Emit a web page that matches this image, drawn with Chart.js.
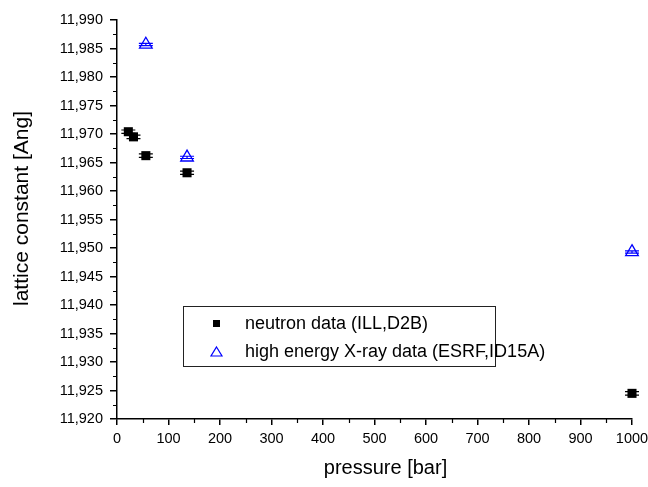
<!DOCTYPE html>
<html>
<head>
<meta charset="utf-8">
<script src="https://cdn.jsdelivr.net/npm/chart.js@4/dist/chart.umd.min.js"></script>
<style>
  html, body { margin: 0; padding: 0; background: #fff; }
  #wrap { width: 648px; height: 487px; }
</style>
</head>
<body>
<div id="wrap"><canvas id="latticeChart" width="648" height="487"></canvas></div>
<script>
// data
const neutronPressure = [22, 32, 56, 136, 1000];
const neutronLattice = [11.9704, 11.9695, 11.9662, 11.9632, 11.9245];
const neutronError = [0.0003, 0.0003, 0.0003, 0.0003, 0.0003];

const xrayPressure = [56, 136, 1000];
const xrayLattice = [11.9857, 11.9659, 11.9493];
const xrayError = [0.0002, 0.0002, 0.0002];

const seriesLabels = ['neutron data (ILL,D2B)', 'high energy X-ray data (ESRF,ID15A)'];
const xTitle = 'pressure [bar]';
const yTitle = 'lattice constant [Ang]';

const xMin = 0, xMax = 1000, xStep = 100;
const yMin = 11.92, yMax = 11.99, yStep = 0.005;

const tickFont = "'Liberation Sans', Arial, sans-serif";
const textFont = "'Liberation Sans', Arial, sans-serif";

const toPoints = (xs, ys) => xs.map((x, i) => ({ x: x, y: ys[i] }));

// minor ticks between the major ones
const minorTicks = {
    id: 'minorTicks',
    afterDraw(chart) {
        const ctx = chart.ctx;
        const xs = chart.scales.x, ys = chart.scales.y;
        const area = chart.chartArea;
        ctx.save();
        ctx.strokeStyle = '#000';
        ctx.lineWidth = 1.2;
        ctx.beginPath();
        for (let v = xMin + xStep / 2; v < xMax; v += xStep) {
            const px = Math.round(xs.getPixelForValue(v)) + 0.5;
            ctx.moveTo(px, area.bottom);
            ctx.lineTo(px, area.bottom + 4);
        }
        for (let v = yMin + yStep / 2; v < yMax; v += yStep) {
            const py = Math.round(ys.getPixelForValue(v)) + 0.5;
            ctx.moveTo(area.left, py);
            ctx.lineTo(area.left - 4, py);
        }
        ctx.stroke();
        ctx.restore();
    }
};

// vertical error bars with caps
const errorBars = {
    id: 'errorBars',
    afterDatasetsDraw(chart) {
        const ctx = chart.ctx;
        const ys = chart.scales.y;
        const errs = [neutronError, xrayError];
        ctx.save();
        chart.data.datasets.forEach((ds, di) => {
            const meta = chart.getDatasetMeta(di);
            ctx.strokeStyle = ds.borderColor;
            ctx.lineWidth = 1.2;
            meta.data.forEach((pt, i) => {
                const v = ds.data[i].y;
                const e = errs[di][i];
                const top = ys.getPixelForValue(v + e);
                const bot = ys.getPixelForValue(v - e);
                ctx.beginPath();
                ctx.moveTo(pt.x, top);
                ctx.lineTo(pt.x, bot);
                ctx.moveTo(pt.x - 7, top);
                ctx.lineTo(pt.x + 7, top);
                ctx.moveTo(pt.x - 7, bot);
                ctx.lineTo(pt.x + 7, bot);
                ctx.stroke();
            });
        });
        ctx.restore();
    }
};

// boxed legend inside the plot and the axis titles
const boxLegend = {
    id: 'boxLegend',
    afterDraw(chart) {
        const ctx = chart.ctx;
        const a = chart.chartArea;
        const left = a.left + 66, top = a.top + 286;
        ctx.save();
        ctx.strokeStyle = '#222';
        ctx.lineWidth = 1;
        ctx.strokeRect(left + 0.5, top + 0.5, 312, 60);

        // square marker
        ctx.fillStyle = '#000';
        ctx.fillRect(left + 30, top + 14, 7, 7);
        // open triangle marker
        ctx.strokeStyle = '#0000ff';
        ctx.lineWidth = 1.2;
        ctx.beginPath();
        ctx.moveTo(left + 33.5, top + 41);
        ctx.lineTo(left + 39, top + 50);
        ctx.lineTo(left + 28, top + 50);
        ctx.closePath();
        ctx.stroke();

        ctx.fillStyle = '#000';
        ctx.font = '18px ' + textFont;
        ctx.textBaseline = 'middle';
        ctx.textAlign = 'left';
        ctx.fillText(seriesLabels[0], left + 62, top + 18);
        ctx.fillText(seriesLabels[1], left + 62, top + 46);

        // axis titles
        ctx.textAlign = 'center';
        ctx.font = '20px ' + textFont;
        ctx.fillText(xTitle, (a.left + a.right) / 2 + 11, 468);
        ctx.translate(22, (a.top + a.bottom) / 2 - 11);
        ctx.rotate(-Math.PI / 2);
        ctx.font = '21px ' + textFont;
        ctx.fillText(yTitle, 0, 0);
        ctx.restore();
    }
};

const ctx = document.getElementById('latticeChart').getContext('2d');
new Chart(ctx, {
    type: 'scatter',
    data: {
        datasets: [{
            label: seriesLabels[0],
            data: toPoints(neutronPressure, neutronLattice),
            pointStyle: 'rect',
            pointRadius: 6.4,
            backgroundColor: '#000',
            borderColor: '#000',
            borderWidth: 0,
            clip: false
        }, {
            label: seriesLabels[1],
            data: toPoints(xrayPressure, xrayLattice),
            pointStyle: 'triangle',
            pointRadius: 7.3,
            backgroundColor: 'rgba(0,0,0,0)',
            borderColor: '#0000ff',
            borderWidth: 1.3,
            clip: false
        }]
    },
    options: {
        responsive: false,
        animation: false,
        layout: { padding: { top: 20, right: 16, left: 0, bottom: 0 } },
        plugins: {
            legend: { display: false },
            tooltip: { enabled: false }
        },
        scales: {
            x: {
                type: 'linear',
                min: xMin,
                max: xMax,
                afterFit: scale => {
                    scale.height = 68;
                    scale.paddingLeft = 0;
                    scale.paddingRight = 0;
                },
                border: { display: true, color: '#000', width: 1.5 },
                grid: { drawOnChartArea: false, drawTicks: true, tickLength: 6, color: '#000', lineWidth: 1.5 },
                ticks: {
                    stepSize: xStep,
                    autoSkip: false,
                    maxRotation: 0,
                    padding: 5,
                    color: '#000',
                    font: { family: tickFont, size: 14.5 },
                    callback: value => String(value)
                }
            },
            y: {
                type: 'linear',
                min: yMin,
                max: yMax,
                afterFit: scale => {
                    scale.width = 117;
                    scale.paddingTop = 0;
                    scale.paddingBottom = 0;
                },
                border: { display: true, color: '#000', width: 1.5 },
                grid: { drawOnChartArea: false, drawTicks: true, tickLength: 7, color: '#000', lineWidth: 1.5 },
                ticks: {
                    stepSize: yStep,
                    autoSkip: false,
                    padding: 7,
                    color: '#000',
                    font: { family: tickFont, size: 14.5 },
                    callback: value => Number(value).toFixed(3).replace('.', ',')
                }
            }
        }
    },
    plugins: [minorTicks, errorBars, boxLegend]
});
</script>
</body>
</html>
